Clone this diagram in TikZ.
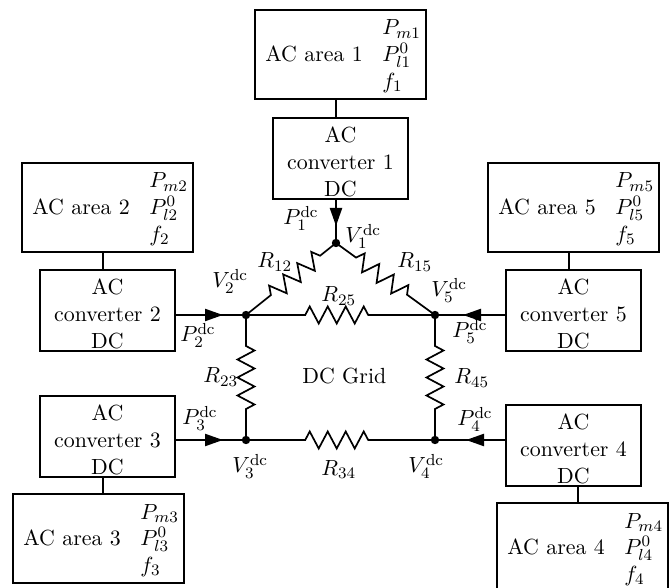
\documentclass[tikz,border=0pt]{standalone}
\usetikzlibrary{arrows.meta,calc}
\tikzset{
  wire/.style={line width=0.85pt,line join=miter},
  areabox/.style={draw,line width=0.85pt,anchor=north west,inner sep=0pt,outer sep=0pt,minimum width=85.5pt,minimum height=44.5pt},
  convbox/.style={draw,line width=0.85pt,anchor=north west,inner sep=0pt,outer sep=0pt,minimum width=67.5pt,minimum height=40.5pt,align=center},
  junction/.style={circle,fill=black,inner sep=0pt,minimum size=4.2pt},
  lab/.style={anchor=base west,inner sep=0pt},
  flow/.style={line width=1.1pt,-{Triangle[length=9pt,width=6pt]}}
}
% area box: name, x, y, index
\newcommand\areablock[4]{%
  \node[areabox] (#1) at (#2,#3) {};
  \node[lab] (#1t) at ($(#1.north west)+(10,51.5)$) {AC area #4};
  \node[lab] (#1a) at ($(#1.north west)+(127,25)$) {$P_{m#4}$};
  \node[lab] (#1b) at ($(#1.north west)+(127,51.5)$) {$P_{l#4}^{0}$};
  \node[lab] (#1c) at ($(#1.north west)+(127,78.5)$) {$f_{#4}$};
}
\newcommand\convblock[4]{%
  \node[convbox] (#1) at (#2,#3) {\rule{0pt}{11pt}AC\\converter #4\\DC};
}
% resistor: from, to, position of its centre, angle
\newcommand\resistor[4]{%
  \path (#1.center) -- (#2.center) coordinate[pos=#3] (rc);
  \begin{scope}[shift={(rc)},rotate=#4,x=.5pt,y=.5pt]
    \draw[wire] (#1.center) -- (-31.5,0) -- (-27,8.5) -- (-18,-8.5) -- (-9,8.5) -- (0,-8.5) -- (9,8.5) -- (18,-8.5) -- (27,8.5) -- (31.5,0) -- (#2.center);
  \end{scope}
}
\begin{document}
\begin{tikzpicture}[x=.5pt,y=-.5pt,font=\fontsize{10.95}{13.5}\selectfont]
\useasboundingbox (0,0) rectangle (670,588);
\clip (0,0) rectangle (670,588);

% boxes
\areablock{a1}{255}{10}{1}
\areablock{a2}{22}{163}{2}
\areablock{a3}{13}{494}{3}
\areablock{a4}{497}{503}{4}
\areablock{a5}{488}{163}{5}
\convblock{c1}{273}{118}{1}
\convblock{c2}{40}{270}{2}
\convblock{c3}{40}{396}{3}
\convblock{c4}{506}{405}{4}
\convblock{c5}{506}{270}{5}

% junctions
\node[junction] (n1) at (336,243) {};
\node[junction] (n2) at (246,315) {};
\node[junction] (n3) at (246,440) {};
\node[junction] (n4) at (435,440) {};
\node[junction] (n5) at (435,315) {};

% area to converter links
\coordinate (j2) at (103,0);
\coordinate (j3) at (103,0);
\coordinate (j4) at (578,0);
\coordinate (j5) at (569,0);
\draw[wire] (a1.south -| n1) -- (c1.north -| n1);
\draw[wire] (a2.south -| j2) -- (c2.north -| j2);
\draw[wire] (a3.north -| j3) -- (c3.south -| j3);
\draw[wire] (a4.north -| j4) -- (c4.south -| j4);
\draw[wire] (a5.south -| j5) -- (c5.north -| j5);

% injections
\coordinate (t1) at (336,226);
\coordinate (t2) at (223,315);
\coordinate (t3) at (223,440);
\coordinate (t4) at (466,440);
\coordinate (t5) at (463,315);
\draw[wire] (c1.south -| n1) -- (n1.center);
\draw[flow] (c1.south -| n1) -- (t1);
\draw[wire] (c2.east |- n2) -- (n2.center);
\draw[flow] (c2.east |- n2) -- (t2);
\draw[wire] (c3.east |- n3) -- (n3.center);
\draw[flow] (c3.east |- n3) -- (t3);
\draw[wire] (c4.west |- n4) -- (n4.center);
\draw[flow] (c4.west |- n4) -- (t4);
\draw[wire] (c5.west |- n5) -- (n5.center);
\draw[flow] (c5.west |- n5) -- (t5);

% resistors
\resistor{n2}{n1}{.55}{38.66}
\resistor{n1}{n5}{.46}{-36.03}
\resistor{n2}{n5}{.48}{0}
\resistor{n3}{n4}{.48}{0}
\resistor{n2}{n3}{.5}{-90}
\resistor{n5}{n4}{.5}{-90}

% labels
\node[lab] (lv1) at (345,243) {$V_1^{\mathrm{dc}}$};
\node[lab] (lv2) at (212,288) {$V_2^{\mathrm{dc}}$};
\node[lab] (lv3) at (232,473) {$V_3^{\mathrm{dc}}$};
\node[lab] (lv4) at (408,473) {$V_4^{\mathrm{dc}}$};
\node[lab] (lv5) at (431,297) {$V_5^{\mathrm{dc}}$};
\node[lab] (lp1) at (283,225) {$P_1^{\mathrm{dc}}$};
\node[lab] (lp2) at (180,342) {$P_2^{\mathrm{dc}}$};
\node[lab] (lp3) at (182,425) {$P_3^{\mathrm{dc}}$};
\node[lab] (lp4) at (457,426) {$P_4^{\mathrm{dc}}$};
\node[lab] (lp5) at (452,338) {$P_5^{\mathrm{dc}}$};
\node[lab] (r12) at (257,268) {$R_{12}$};
\node[lab] (r15) at (397,268) {$R_{15}$};
\node[lab] (r25) at (321,302) {$R_{25}$};
\node[lab] (r23) at (203,383) {$R_{23}$};
\node[lab] (r45) at (454,384) {$R_{45}$};
\node[lab] (r34) at (321,475) {$R_{34}$};
\node[lab] (grid) at (302,384) {DC Grid};
\end{tikzpicture}
\end{document}
